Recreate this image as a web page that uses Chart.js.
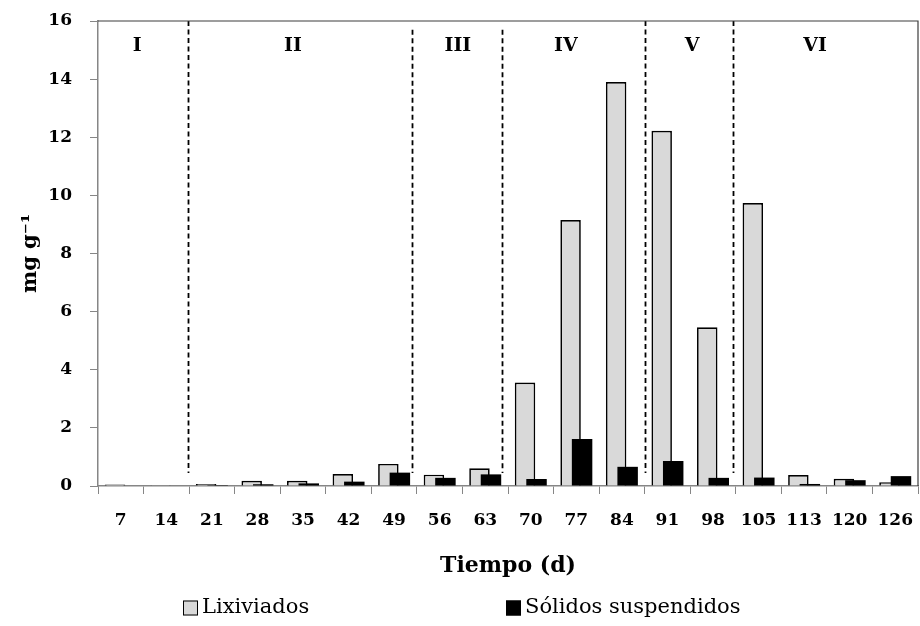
<!DOCTYPE html>
<html>
<head>
<meta charset="utf-8">
<script src="https://cdn.jsdelivr.net/npm/chart.js@4.4.0/dist/chart.umd.min.js"></script>
<style>
    html, body { margin: 0; padding: 0; background: #fff; }
    #wrap { width: 920px; height: 626px; }
</style>
</head>
<body>
<div id="wrap"><canvas id="chart_tiempo"></canvas></div>
<script>
// dias de muestreo (eje x)
var dias = ['7', '14', '21', '28', '35', '42', '49', '56', '63', '70', '77', '84', '91', '98', '105', '113', '120', '126'];
// mg g-1
var lixiviados = [0.05, 0.03, 0.07, 0.18, 0.18, 0.41, 0.76, 0.39, 0.61, 3.56, 9.15, 13.9, 12.22, 5.46, 9.74, 0.38, 0.25, 0.13];
var solidos = [0, 0, 0.03, 0.06, 0.09, 0.15, 0.46, 0.28, 0.40, 0.24, 1.62, 0.66, 0.86, 0.28, 0.29, 0.07, 0.20, 0.34];
// fases del experimento
var fases = ['I', 'II', 'III', 'IV', 'V', 'VI'];
var centroFases = [0.36, 3.78, 7.40, 9.77, 12.54, 15.24];   // en unidades de categoria
var limitesFases = [1.48, 6.40, 8.36, 11.51, 13.43];
var topeLimites = [16, 15.7, 15.7, 16, 16];
var yMax = 16, yPaso = 2;

var serif = '"DejaVu Serif", serif';

var fasesPlugin = {
    id: 'fases',
    beforeDatasetDraw: function(chart, args) {
        // las barras negras se dibujan despues, encima de las grises
        if (args.index === 1) return false;
    },
    afterDatasetsDraw: function(chart) {
        var ctx = chart.ctx;
        var x = chart.scales.x, y = chart.scales.y, area = chart.chartArea;
        chart.getDatasetMeta(1).controller.draw();

        ctx.save();
        // lineas de fase
        ctx.strokeStyle = '#000';
        ctx.lineWidth = 1.8;
        ctx.setLineDash([5, 3.5]);
        limitesFases.forEach(function(v, i) {
            var px = Math.round(x.getPixelForValue(v)) + 0.5;
            ctx.beginPath();
            ctx.moveTo(px, y.getPixelForValue(topeLimites[i]));
            ctx.lineTo(px, y.getPixelForValue(0.45));
            ctx.stroke();
        });
        ctx.setLineDash([]);

        ctx.fillStyle = '#000';
        ctx.font = 'bold 19px ' + serif;
        ctx.textAlign = 'center';
        ctx.textBaseline = 'middle';
        fases.forEach(function(f, i) {
            ctx.fillText(f, x.getPixelForValue(centroFases[i]), area.top + 25);
        });

        // marco superior y derecho
        ctx.strokeStyle = '#3c3c3c';
        ctx.lineWidth = 1.2;
        ctx.beginPath();
        ctx.moveTo(area.left, area.top);
        ctx.lineTo(area.right, area.top);
        ctx.lineTo(area.right, area.bottom);
        ctx.stroke();
        ctx.restore();
    },
    afterDraw: function(chart) {
        // leyenda abajo
        var ctx = chart.ctx;
        var inicio = [183, 506];
        var yc = 608, caja = 15;
        ctx.save();
        ctx.font = '21px ' + serif;
        ctx.textBaseline = 'middle';
        ctx.textAlign = 'left';
        chart.data.datasets.forEach(function(ds, i) {
            ctx.fillStyle = ds.backgroundColor;
            ctx.fillRect(inicio[i], yc - caja / 2, caja, caja);
            ctx.strokeStyle = '#000';
            ctx.lineWidth = 1;
            ctx.strokeRect(inicio[i] + 0.5, yc - caja / 2 + 0.5, caja - 1, caja - 1);
            ctx.fillStyle = '#000';
            ctx.fillText(ds.label, inicio[i] + caja + 4, yc);
        });
        ctx.restore();
    }
};

var chart_tiempo = document.getElementById('chart_tiempo');

let chartTiempo = new Chart(chart_tiempo, {
    type: 'bar',
    data: {
        labels: dias,
        datasets: [{
            label: 'Lixiviados',
            data: lixiviados,
            backgroundColor: '#d9d9d9',
            borderColor: '#000',
            borderWidth: 1.7,
            borderSkipped: 'bottom'
        }, {
            label: 'Sólidos suspendidos',
            data: solidos,
            backgroundColor: '#000',
            borderWidth: 0
        }]
    },
    options: {
        responsive: true,
        maintainAspectRatio: false,
        animation: false,
        datasets: {
            bar: {
                categoryPercentage: 0.505,
                barPercentage: 1.78
            }
        },
        layout: {
            padding: { left: 0, right: 2, top: 21, bottom: 40 }
        },
        plugins: {
            legend: { display: false },
            tooltip: { enabled: false }
        },
        scales: {
            x: {
                grid: {
                    offset: true,
                    drawOnChartArea: false,
                    tickLength: 8,
                    color: '#868686'
                },
                border: { color: '#868686', width: 1.5 },
                ticks: {
                    color: '#000',
                    padding: 16,
                    maxRotation: 0,
                    autoSkip: false,
                    font: { family: serif, size: 17, weight: 'bold' }
                },
                title: {
                    display: true,
                    text: 'Tiempo (d)',
                    color: '#000',
                    padding: { top: 0, bottom: 7 },
                    font: { family: serif, size: 22, weight: 'bold' }
                },
                afterFit: function(scale) {
                    scale.height = 100;
                    scale.paddingLeft = 0;
                    scale.paddingRight = 0;
                }
            },
            y: {
                min: 0,
                max: yMax,
                grid: {
                    drawOnChartArea: false,
                    tickLength: 8,
                    color: '#868686'
                },
                border: { color: '#868686', width: 1.5 },
                ticks: {
                    stepSize: yPaso,
                    color: '#000',
                    padding: 18,
                    font: { family: serif, size: 17, weight: 'bold' }
                },
                title: {
                    display: true,
                    text: 'mg g⁻¹',
                    color: '#000',
                    padding: { top: 18, bottom: 0 },
                    font: { family: serif, size: 21, weight: 'bold' }
                },
                afterFit: function(scale) {
                    scale.width = 98;
                    scale.paddingTop = 0;
                    scale.paddingBottom = 0;
                }
            }
        }
    },
    plugins: [fasesPlugin]
});
</script>
</body>
</html>
